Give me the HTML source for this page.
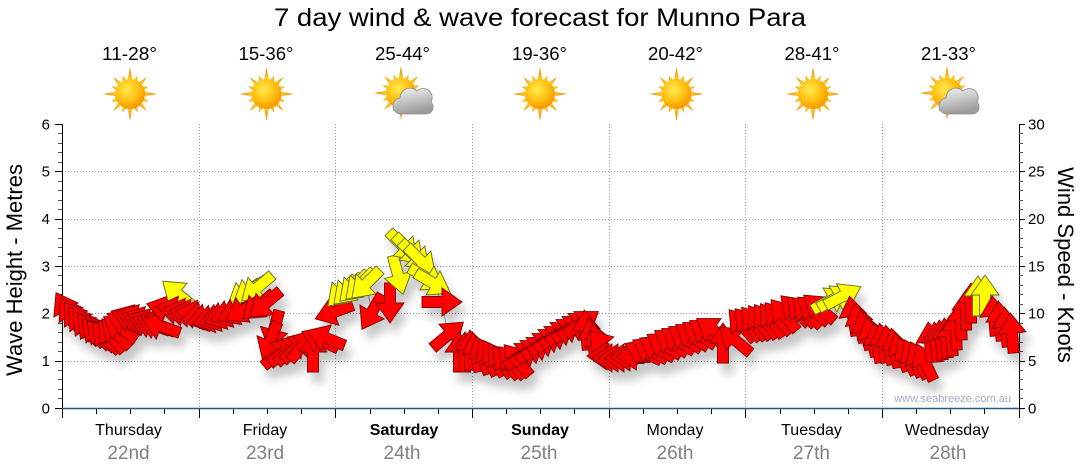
<!DOCTYPE html>
<html><head><meta charset="utf-8"><style>
html,body{margin:0;padding:0;background:#fff;}
svg{display:block;font-family:"Liberation Sans",Arial,sans-serif;}
.r{fill:#ff0000;stroke:#800000;stroke-width:0.9;}
.y{fill:#ffff00;stroke:#66662a;stroke-width:0.9;}
</style></head><body>
<svg width="1080" height="475" viewBox="0 0 1080 475" xmlns="http://www.w3.org/2000/svg">
<defs>
<polygon id="a" points="-20,-5.5 0,-5.5 0,-14 20,0 0,14 0,5.5 -20,5.5"/>
<radialGradient id="rg" gradientUnits="userSpaceOnUse" cx="0" cy="0" r="27">
<stop offset="0.45" stop-color="#ffd83a"/><stop offset="1" stop-color="#e8850a"/></radialGradient>
<radialGradient id="sg" cx="0.4" cy="0.35" r="0.7">
<stop offset="0" stop-color="#ffea50"/><stop offset="0.55" stop-color="#ffc010"/><stop offset="1" stop-color="#f39000"/></radialGradient>
<linearGradient id="cg" x1="0" y1="0" x2="0.3" y2="1">
<stop offset="0" stop-color="#f6f6f6"/><stop offset="1" stop-color="#9c9c9c"/></linearGradient>
<g id="sun">
<g fill="url(#rg)">
<polygon points="11,-3 27,0 11,3"/>
<polygon points="11,-3 27,0 11,3" transform="rotate(90)"/>
<polygon points="11,-3 27,0 11,3" transform="rotate(180)"/>
<polygon points="11,-3 27,0 11,3" transform="rotate(270)"/>
<polygon points="11,-3 24,0 11,3" transform="rotate(45)"/>
<polygon points="11,-3 24,0 11,3" transform="rotate(135)"/>
<polygon points="11,-3 24,0 11,3" transform="rotate(225)"/>
<polygon points="11,-3 24,0 11,3" transform="rotate(315)"/>
<polygon points="11,-3.5 20,0 11,3.5" transform="rotate(22.5)"/>
<polygon points="11,-3.5 20,0 11,3.5" transform="rotate(67.5)"/>
<polygon points="11,-3.5 20,0 11,3.5" transform="rotate(112.5)"/>
<polygon points="11,-3.5 20,0 11,3.5" transform="rotate(157.5)"/>
<polygon points="11,-3.5 20,0 11,3.5" transform="rotate(202.5)"/>
<polygon points="11,-3.5 20,0 11,3.5" transform="rotate(247.5)"/>
<polygon points="11,-3.5 20,0 11,3.5" transform="rotate(292.5)"/>
<polygon points="11,-3.5 20,0 11,3.5" transform="rotate(337.5)"/>
</g>
<circle r="15" fill="url(#sg)"/>
</g>
<g id="cloud">
<use href="#sun"/>
<path d="M 1,21 H 25 A 7,7 0 0 0 30,9 A 9,9 0 0 0 16,-2 A 10,10 0 0 0 -1,5 A 8,8 0 0 0 1,21 Z" fill="url(#cg)" stroke="#8e8e8e" stroke-width="0.8"/>
</g>
<filter id="sh" x="-5%" y="-30%" width="110%" height="170%">
<feGaussianBlur in="SourceAlpha" stdDeviation="4.5"/>
<feOffset dx="5" dy="10" result="b"/>
<feFlood flood-color="#000" flood-opacity="0.22"/>
<feComposite in2="b" operator="in"/>
<feMerge><feMergeNode/><feMergeNode in="SourceGraphic"/></feMerge>
</filter>
</defs>
<rect width="1080" height="475" fill="#fff"/>

<text x="540" y="26" font-size="25" text-anchor="middle" textLength="532" lengthAdjust="spacingAndGlyphs" fill="#000">7 day wind &amp; wave forecast for Munno Para</text>

<g font-size="18" text-anchor="middle" fill="#000">
<text x="129.5" y="60" textLength="55" lengthAdjust="spacingAndGlyphs">11-28°</text>
<text x="266" y="60" textLength="55" lengthAdjust="spacingAndGlyphs">15-36°</text>
<text x="402.5" y="60" textLength="55" lengthAdjust="spacingAndGlyphs">25-44°</text>
<text x="539.5" y="60" textLength="55" lengthAdjust="spacingAndGlyphs">19-36°</text>
<text x="675.5" y="60" textLength="55" lengthAdjust="spacingAndGlyphs">20-42°</text>
<text x="812" y="60" textLength="55" lengthAdjust="spacingAndGlyphs">28-41°</text>
<text x="948.5" y="60" textLength="55" lengthAdjust="spacingAndGlyphs">21-33°</text>
</g>
<use href="#sun" transform="translate(130 94)"/>
<use href="#sun" transform="translate(266.5 94)"/>
<use href="#cloud" transform="translate(401 93)"/>
<use href="#sun" transform="translate(540 94)"/>
<use href="#sun" transform="translate(676.5 94)"/>
<use href="#sun" transform="translate(813 94)"/>
<use href="#cloud" transform="translate(947 93)"/>

<g stroke="#9a9a9a" stroke-width="1" stroke-dasharray="1 2" fill="none">
<path d="M62 361.5H1019M62 313.5H1019M62 266.5H1019M62 219.5H1019M62 171.5H1019"/>
<path d="M199.5 124V408M335.5 124V408M472.5 124V408M609.5 124V408M745.5 124V408M882.5 124V408"/>
</g>

<text x="1011" y="402" font-size="11" text-anchor="end" fill="#a4abbb">www.seabreeze.com.au</text>

<g stroke="#000" stroke-width="1" fill="none">
<path d="M62.5 124V408M1019.5 124V408"/>
<path d="M55 124.5h7M55 171.5h7M55 219.5h7M55 266.5h7M55 313.5h7M55 361.5h7M55 408.5h7"/>
<path d="M1019 124.5h6M1019 171.5h6M1019 219.5h6M1019 266.5h6M1019 313.5h6M1019 361.5h6M1019 408.5h6"/>
<path d="M62.5 408v10M199.5 408v10M335.5 408v10M472.5 408v10M609.5 408v10M745.5 408v10M882.5 408v10M1019.5 408v10"/>
<path d="M96.5 408v6M130.5 408v6M164.5 408v6M233.5 408v6M267.5 408v6M301.5 408v6M370.5 408v6M404.5 408v6M438.5 408v6M506.5 408v6M540.5 408v6M574.5 408v6M643.5 408v6M677.5 408v6M711.5 408v6M780.5 408v6M814.5 408v6M848.5 408v6M916.5 408v6M950.5 408v6M984.5 408v6"/>
</g>
<g stroke="#555" stroke-width="1" fill="none">
<path d="M58 133.5h4M58 143.5h4M58 152.5h4M58 162.5h4M58 181.5h4M58 190.5h4M58 200.5h4M58 209.5h4M58 228.5h4M58 238.5h4M58 247.5h4M58 256.5h4M58 275.5h4M58 285.5h4M58 294.5h4M58 304.5h4M58 323.5h4M58 332.5h4M58 342.5h4M58 351.5h4M58 370.5h4M58 379.5h4M58 389.5h4M58 398.5h4"/>
<path d="M1019 133.5h4M1019 143.5h4M1019 152.5h4M1019 162.5h4M1019 181.5h4M1019 190.5h4M1019 200.5h4M1019 209.5h4M1019 228.5h4M1019 238.5h4M1019 247.5h4M1019 256.5h4M1019 275.5h4M1019 285.5h4M1019 294.5h4M1019 304.5h4M1019 323.5h4M1019 332.5h4M1019 342.5h4M1019 351.5h4M1019 370.5h4M1019 379.5h4M1019 389.5h4M1019 398.5h4"/>
</g>
<path d="M62 408.5H1019" stroke="#1b5b8c" stroke-width="1.5"/>

<g font-size="15" fill="#000" text-anchor="end">
<text x="50" y="129.5">6</text><text x="50" y="176.5">5</text><text x="50" y="224">4</text>
<text x="50" y="271.5">3</text><text x="50" y="318.5">2</text><text x="50" y="366">1</text><text x="50" y="413.5">0</text>
</g>
<g font-size="15" fill="#000">
<text x="1028" y="129.5">30</text><text x="1028" y="176.5">25</text><text x="1028" y="224">20</text>
<text x="1028" y="271.5">15</text><text x="1028" y="318.5">10</text><text x="1028" y="366">5</text><text x="1028" y="413.5">0</text>
</g>

<text transform="translate(22 270) rotate(-90)" font-size="22" text-anchor="middle" fill="#000">Wave Height - Metres</text>
<text transform="translate(1058 265) rotate(90)" font-size="22" text-anchor="middle" fill="#000">Wind Speed - Knots</text>

<g font-size="16" text-anchor="middle" fill="#000">
<text x="128.5" y="435">Thursday</text>
<text x="265" y="435">Friday</text>
<text x="404" y="435" font-weight="bold">Saturday</text>
<text x="540" y="435" font-weight="bold">Sunday</text>
<text x="675" y="435">Monday</text>
<text x="811.5" y="435">Tuesday</text>
<text x="947" y="435">Wednesday</text>
</g>
<g font-size="19" text-anchor="middle" fill="#808080">
<text x="128.5" y="459">22nd</text>
<text x="265" y="459">23rd</text>
<text x="402" y="459">24th</text>
<text x="539" y="459">25th</text>
<text x="675" y="459">26th</text>
<text x="811.5" y="459">27th</text>
<text x="948" y="459">28th</text>
</g>

<polyline fill="none" stroke="#a0a0a0" stroke-width="1" points="66,310 71,315 76,319 81,323 86,327 91,330 96,333 101,335 106,337 111,336 116,333 120,328 125,322 130,318 135,318 141,320 146,322 151,324 156,325 161,326 166,309 178,294 176,310 183,312 189,313 195,314 201,316 206,318 212,319 218,318 223,316 229,314 244,294 250,291 257,288 236,312 243,310 258,306 265,304 274,330 270,341 279,353 285,351 291,349 297,347 303,345 313,352 320,340 326,338 334,312 342,292 348,290 354,287 360,285 366,284 372,312 390,303 398,275 403,246 409,250 415,256 421,261 427,278 433,283 442,302 448,335 459,352 465,352 470,350 476,352 482,355 488,357 494,358 500,360 506,362 512,362 517,360 522,355 528,352 534,349 540,345 546,341 552,338 558,334 564,331 570,328 576,325 582,323 586,330 592,338 598,343 603,346 607,356 612,358 618,358 624,358 630,357 636,356 643,352 650,350 657,348 664,345 671,342 678,340 685,338 692,336 699,334 706,332 713,330 723,343 735,340 742,325 748,324 754,323 760,322 766,321 772,320 778,318 784,315 795,310 801,311 807,312 813,310 819,308 830,300 836,298 843,296 853,316 859,323 865,330 871,337 877,343 883,343 889,345 895,348 901,352 907,356 913,358 919,360 925,362 930,342 936,342 941,340 946,338 951,336 956,330 961,320 966,310 971,303 978,296 985,295 994,316 1000,321 1006,327 1012,333"/>

<g filter="url(#sh)">
<use href="#a" class="r" transform="translate(66 310) rotate(-120)"/>
<use href="#a" class="r" transform="translate(71 315) rotate(-122)"/>
<use href="#a" class="r" transform="translate(76 319) rotate(-125)"/>
<use href="#a" class="r" transform="translate(81 323) rotate(-128)"/>
<use href="#a" class="r" transform="translate(86 327) rotate(-130)"/>
<use href="#a" class="r" transform="translate(91 330) rotate(-132)"/>
<use href="#a" class="r" transform="translate(96 333) rotate(-135)"/>
<use href="#a" class="r" transform="translate(101 335) rotate(-135)"/>
<use href="#a" class="r" transform="translate(106 337) rotate(-133)"/>
<use href="#a" class="r" transform="translate(111 336) rotate(-130)"/>
<use href="#a" class="r" transform="translate(116 333) rotate(-135)"/>
<use href="#a" class="r" transform="translate(120 328) rotate(-145)"/>
<use href="#a" class="r" transform="translate(125 322) rotate(-155)"/>
<use href="#a" class="r" transform="translate(130 318) rotate(-160)"/>
<use href="#a" class="r" transform="translate(135 318) rotate(-162)"/>
<use href="#a" class="r" transform="translate(141 320) rotate(-162)"/>
<use href="#a" class="r" transform="translate(146 322) rotate(-160)"/>
<use href="#a" class="r" transform="translate(151 324) rotate(-160)"/>
<use href="#a" class="r" transform="translate(156 325) rotate(-160)"/>
<use href="#a" class="r" transform="translate(161 326) rotate(-160)"/>
<use href="#a" class="r" transform="translate(166 309) rotate(-165)"/>
<use href="#a" class="y" transform="translate(178 294) rotate(-140)"/>
<use href="#a" class="r" transform="translate(176 310) rotate(-170)"/>
<use href="#a" class="r" transform="translate(183 312) rotate(-170)"/>
<use href="#a" class="r" transform="translate(189 313) rotate(-172)"/>
<use href="#a" class="r" transform="translate(195 314) rotate(-170)"/>
<use href="#a" class="r" transform="translate(201 316) rotate(170)"/>
<use href="#a" class="r" transform="translate(206 318) rotate(165)"/>
<use href="#a" class="r" transform="translate(212 319) rotate(165)"/>
<use href="#a" class="r" transform="translate(218 318) rotate(163)"/>
<use href="#a" class="r" transform="translate(223 316) rotate(160)"/>
<use href="#a" class="r" transform="translate(229 314) rotate(160)"/>
<use href="#a" class="y" transform="translate(244 294) rotate(145)"/>
<use href="#a" class="y" transform="translate(250 291) rotate(145)"/>
<use href="#a" class="y" transform="translate(257 288) rotate(140)"/>
<use href="#a" class="r" transform="translate(236 312) rotate(155)"/>
<use href="#a" class="r" transform="translate(243 310) rotate(150)"/>
<use href="#a" class="r" transform="translate(258 306) rotate(140)"/>
<use href="#a" class="r" transform="translate(265 304) rotate(140)"/>
<use href="#a" class="r" transform="translate(274 330) rotate(105)"/>
<use href="#a" class="r" transform="translate(270 341) rotate(112)"/>
<use href="#a" class="r" transform="translate(279 353) rotate(-40)"/>
<use href="#a" class="r" transform="translate(285 351) rotate(-40)"/>
<use href="#a" class="r" transform="translate(291 349) rotate(-45)"/>
<use href="#a" class="r" transform="translate(297 347) rotate(-45)"/>
<use href="#a" class="r" transform="translate(303 345) rotate(-50)"/>
<use href="#a" class="r" transform="translate(313 352) rotate(-90)"/>
<use href="#a" class="r" transform="translate(320 340) rotate(-155)"/>
<use href="#a" class="r" transform="translate(326 338) rotate(-158)"/>
<use href="#a" class="r" transform="translate(334 312) rotate(160)"/>
<use href="#a" class="y" transform="translate(342 292) rotate(135)"/>
<use href="#a" class="y" transform="translate(348 290) rotate(135)"/>
<use href="#a" class="y" transform="translate(354 287) rotate(135)"/>
<use href="#a" class="y" transform="translate(360 285) rotate(135)"/>
<use href="#a" class="y" transform="translate(366 284) rotate(135)"/>
<use href="#a" class="r" transform="translate(372 312) rotate(120)"/>
<use href="#a" class="r" transform="translate(390 303) rotate(90)"/>
<use href="#a" class="y" transform="translate(398 275) rotate(75)"/>
<use href="#a" class="y" transform="translate(403 246) rotate(45)"/>
<use href="#a" class="y" transform="translate(409 250) rotate(45)"/>
<use href="#a" class="y" transform="translate(415 256) rotate(45)"/>
<use href="#a" class="y" transform="translate(421 261) rotate(45)"/>
<use href="#a" class="y" transform="translate(427 278) rotate(30)"/>
<use href="#a" class="y" transform="translate(433 283) rotate(30)"/>
<use href="#a" class="r" transform="translate(442 302) rotate(0)"/>
<use href="#a" class="r" transform="translate(448 335) rotate(-40)"/>
<use href="#a" class="r" transform="translate(459 352) rotate(-90)"/>
<use href="#a" class="r" transform="translate(465 352) rotate(-90)"/>
<use href="#a" class="r" transform="translate(470 350) rotate(-90)"/>
<use href="#a" class="r" transform="translate(476 352) rotate(-100)"/>
<use href="#a" class="r" transform="translate(482 355) rotate(-110)"/>
<use href="#a" class="r" transform="translate(488 357) rotate(-115)"/>
<use href="#a" class="r" transform="translate(494 358) rotate(-120)"/>
<use href="#a" class="r" transform="translate(500 360) rotate(-125)"/>
<use href="#a" class="r" transform="translate(506 362) rotate(-130)"/>
<use href="#a" class="r" transform="translate(512 362) rotate(-130)"/>
<use href="#a" class="r" transform="translate(517 360) rotate(-130)"/>
<use href="#a" class="r" transform="translate(522 355) rotate(-35)"/>
<use href="#a" class="r" transform="translate(528 352) rotate(-35)"/>
<use href="#a" class="r" transform="translate(534 349) rotate(-35)"/>
<use href="#a" class="r" transform="translate(540 345) rotate(-35)"/>
<use href="#a" class="r" transform="translate(546 341) rotate(-35)"/>
<use href="#a" class="r" transform="translate(552 338) rotate(-35)"/>
<use href="#a" class="r" transform="translate(558 334) rotate(-35)"/>
<use href="#a" class="r" transform="translate(564 331) rotate(-35)"/>
<use href="#a" class="r" transform="translate(570 328) rotate(-35)"/>
<use href="#a" class="r" transform="translate(576 325) rotate(-35)"/>
<use href="#a" class="r" transform="translate(582 323) rotate(-35)"/>
<use href="#a" class="r" transform="translate(586 330) rotate(-95)"/>
<use href="#a" class="r" transform="translate(592 338) rotate(-100)"/>
<use href="#a" class="r" transform="translate(598 343) rotate(-110)"/>
<use href="#a" class="r" transform="translate(603 346) rotate(-130)"/>
<use href="#a" class="r" transform="translate(607 356) rotate(180)"/>
<use href="#a" class="r" transform="translate(612 358) rotate(180)"/>
<use href="#a" class="r" transform="translate(618 358) rotate(180)"/>
<use href="#a" class="r" transform="translate(624 358) rotate(180)"/>
<use href="#a" class="r" transform="translate(630 357) rotate(180)"/>
<use href="#a" class="r" transform="translate(636 356) rotate(178)"/>
<use href="#a" class="r" transform="translate(643 352) rotate(-155)"/>
<use href="#a" class="r" transform="translate(650 350) rotate(-150)"/>
<use href="#a" class="r" transform="translate(657 348) rotate(-150)"/>
<use href="#a" class="r" transform="translate(664 345) rotate(-148)"/>
<use href="#a" class="r" transform="translate(671 342) rotate(-145)"/>
<use href="#a" class="r" transform="translate(678 340) rotate(-145)"/>
<use href="#a" class="r" transform="translate(685 338) rotate(-145)"/>
<use href="#a" class="r" transform="translate(692 336) rotate(-145)"/>
<use href="#a" class="r" transform="translate(699 334) rotate(-145)"/>
<use href="#a" class="r" transform="translate(706 332) rotate(-145)"/>
<use href="#a" class="r" transform="translate(713 330) rotate(-145)"/>
<use href="#a" class="r" transform="translate(723 343) rotate(-90)"/>
<use href="#a" class="r" transform="translate(735 340) rotate(-140)"/>
<use href="#a" class="r" transform="translate(742 325) rotate(-130)"/>
<use href="#a" class="r" transform="translate(748 324) rotate(-130)"/>
<use href="#a" class="r" transform="translate(754 323) rotate(-128)"/>
<use href="#a" class="r" transform="translate(760 322) rotate(-125)"/>
<use href="#a" class="r" transform="translate(766 321) rotate(-125)"/>
<use href="#a" class="r" transform="translate(772 320) rotate(-125)"/>
<use href="#a" class="r" transform="translate(778 318) rotate(-130)"/>
<use href="#a" class="r" transform="translate(784 315) rotate(-130)"/>
<use href="#a" class="r" transform="translate(795 310) rotate(-135)"/>
<use href="#a" class="r" transform="translate(801 311) rotate(-135)"/>
<use href="#a" class="r" transform="translate(807 312) rotate(-135)"/>
<use href="#a" class="r" transform="translate(813 310) rotate(-140)"/>
<use href="#a" class="r" transform="translate(819 308) rotate(-140)"/>
<use href="#a" class="y" transform="translate(830 300) rotate(-30)"/>
<use href="#a" class="y" transform="translate(836 298) rotate(-30)"/>
<use href="#a" class="y" transform="translate(843 296) rotate(-28)"/>
<use href="#a" class="r" transform="translate(853 316) rotate(-100)"/>
<use href="#a" class="r" transform="translate(859 323) rotate(-105)"/>
<use href="#a" class="r" transform="translate(865 330) rotate(-105)"/>
<use href="#a" class="r" transform="translate(871 337) rotate(-105)"/>
<use href="#a" class="r" transform="translate(877 343) rotate(-100)"/>
<use href="#a" class="r" transform="translate(883 343) rotate(-100)"/>
<use href="#a" class="r" transform="translate(889 345) rotate(-100)"/>
<use href="#a" class="r" transform="translate(895 348) rotate(-100)"/>
<use href="#a" class="r" transform="translate(901 352) rotate(-110)"/>
<use href="#a" class="r" transform="translate(907 356) rotate(-115)"/>
<use href="#a" class="r" transform="translate(913 358) rotate(-115)"/>
<use href="#a" class="r" transform="translate(919 360) rotate(-115)"/>
<use href="#a" class="r" transform="translate(925 362) rotate(-115)"/>
<use href="#a" class="r" transform="translate(930 342) rotate(-95)"/>
<use href="#a" class="r" transform="translate(936 342) rotate(-95)"/>
<use href="#a" class="r" transform="translate(941 340) rotate(-95)"/>
<use href="#a" class="r" transform="translate(946 338) rotate(-95)"/>
<use href="#a" class="r" transform="translate(951 336) rotate(-95)"/>
<use href="#a" class="r" transform="translate(956 330) rotate(-92)"/>
<use href="#a" class="r" transform="translate(961 320) rotate(-92)"/>
<use href="#a" class="r" transform="translate(966 310) rotate(-90)"/>
<use href="#a" class="r" transform="translate(971 303) rotate(-90)"/>
<use href="#a" class="y" transform="translate(978 296) rotate(-90)"/>
<use href="#a" class="y" transform="translate(985 295) rotate(-90)"/>
<use href="#a" class="r" transform="translate(994 316) rotate(-95)"/>
<use href="#a" class="r" transform="translate(1000 321) rotate(-95)"/>
<use href="#a" class="r" transform="translate(1006 327) rotate(-95)"/>
<use href="#a" class="r" transform="translate(1012 333) rotate(-95)"/>
</g>
</svg>
</body></html>
